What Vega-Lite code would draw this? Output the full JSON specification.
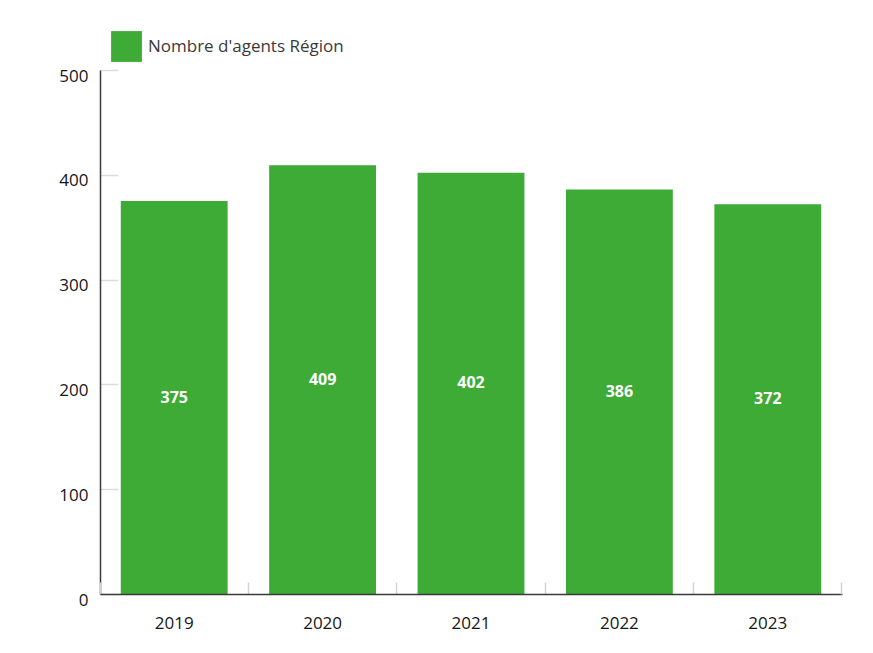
{
  "$schema": "https://vega.github.io/schema/vega-lite/v6.json",
  "width": 742,
  "height": 524,
  "autosize": {"type": "none"},
  "padding": {"left": 100, "top": 70, "right": 31, "bottom": 59},
  "background": "white",
  "config": {
    "view": {"stroke": null},
    "font": "Open Sans"
  },
  "data": {
    "values": [
      {"annee": "2019", "agents": 375, "serie": "Nombre d'agents Région"},
      {"annee": "2020", "agents": 409, "serie": "Nombre d'agents Région"},
      {"annee": "2021", "agents": 402, "serie": "Nombre d'agents Région"},
      {"annee": "2022", "agents": 386, "serie": "Nombre d'agents Région"},
      {"annee": "2023", "agents": 372, "serie": "Nombre d'agents Région"}
    ]
  },
  "resolve": {"scale": {"y": "independent"}, "axis": {"x": "independent"}},
  "layer": [
    {
      "mark": {"type": "bar", "color": "#3dab36"},
      "encoding": {
        "x": {
          "field": "annee",
          "type": "nominal",
          "title": null,
          "scale": {"paddingInner": 0.28, "paddingOuter": 0.14},
          "axis": {
            "orient": "bottom",
            "labelAngle": 0,
            "labelFontSize": 17,
            "labelColor": "#161616",
            "labelPadding": 41,
            "labelBaseline": "middle",
            "domainColor": "#3a3a3a",
            "domainWidth": 1.5,
            "bandPosition": -0.1944,
            "tickColor": "#d4d4d4",
            "tickSize": -12,
            "tickWidth": 1.5,
            "zindex": 1
          }
        },
        "y": {
          "field": "agents",
          "type": "quantitative",
          "title": null,
          "scale": {"domain": [0, 500], "nice": false},
          "axis": {
            "values": [0, 100, 200, 300, 400, 500],
            "labelFontSize": 17,
            "labelColor": "#161616",
            "labelPadding": 30,
            "labelOffset": 6,
            "domainColor": "#3a3a3a",
            "domainWidth": 1.5,
            "tickColor": "#dcdcdc",
            "tickSize": -18,
            "tickWidth": 1.5,
            "grid": false
          }
        },
        "color": {
          "field": "serie",
          "type": "nominal",
          "scale": {"range": ["#3dab36"]},
          "legend": {
            "title": null,
            "orient": "none",
            "legendX": 11,
            "legendY": -39,
            "symbolType": "square",
            "symbolSize": 950,
            "symbolStrokeWidth": 0,
            "symbolOpacity": 1,
            "labelFontSize": 17,
            "labelColor": "#3a3a3a",
            "labelOffset": 6,
            "labelLimit": 400
          }
        }
      }
    },
    {
      "mark": {"type": "text", "color": "white", "fontSize": 16, "fontWeight": "bold", "baseline": "middle"},
      "encoding": {
        "x": {
          "field": "annee",
          "type": "nominal",
          "title": null,
          "axis": {
            "orient": "bottom",
            "values": ["2023"],
            "labels": false,
            "domain": false,
            "bandPosition": 1.1944,
            "tickColor": "#d4d4d4",
            "tickSize": -12,
            "tickWidth": 1.5,
            "zindex": 1
          }
        },
        "y": {
          "field": "agents",
          "type": "quantitative",
          "scale": {"domain": [0, 1000], "nice": false},
          "axis": null
        },
        "text": {"field": "agents", "type": "quantitative"}
      }
    }
  ]
}
